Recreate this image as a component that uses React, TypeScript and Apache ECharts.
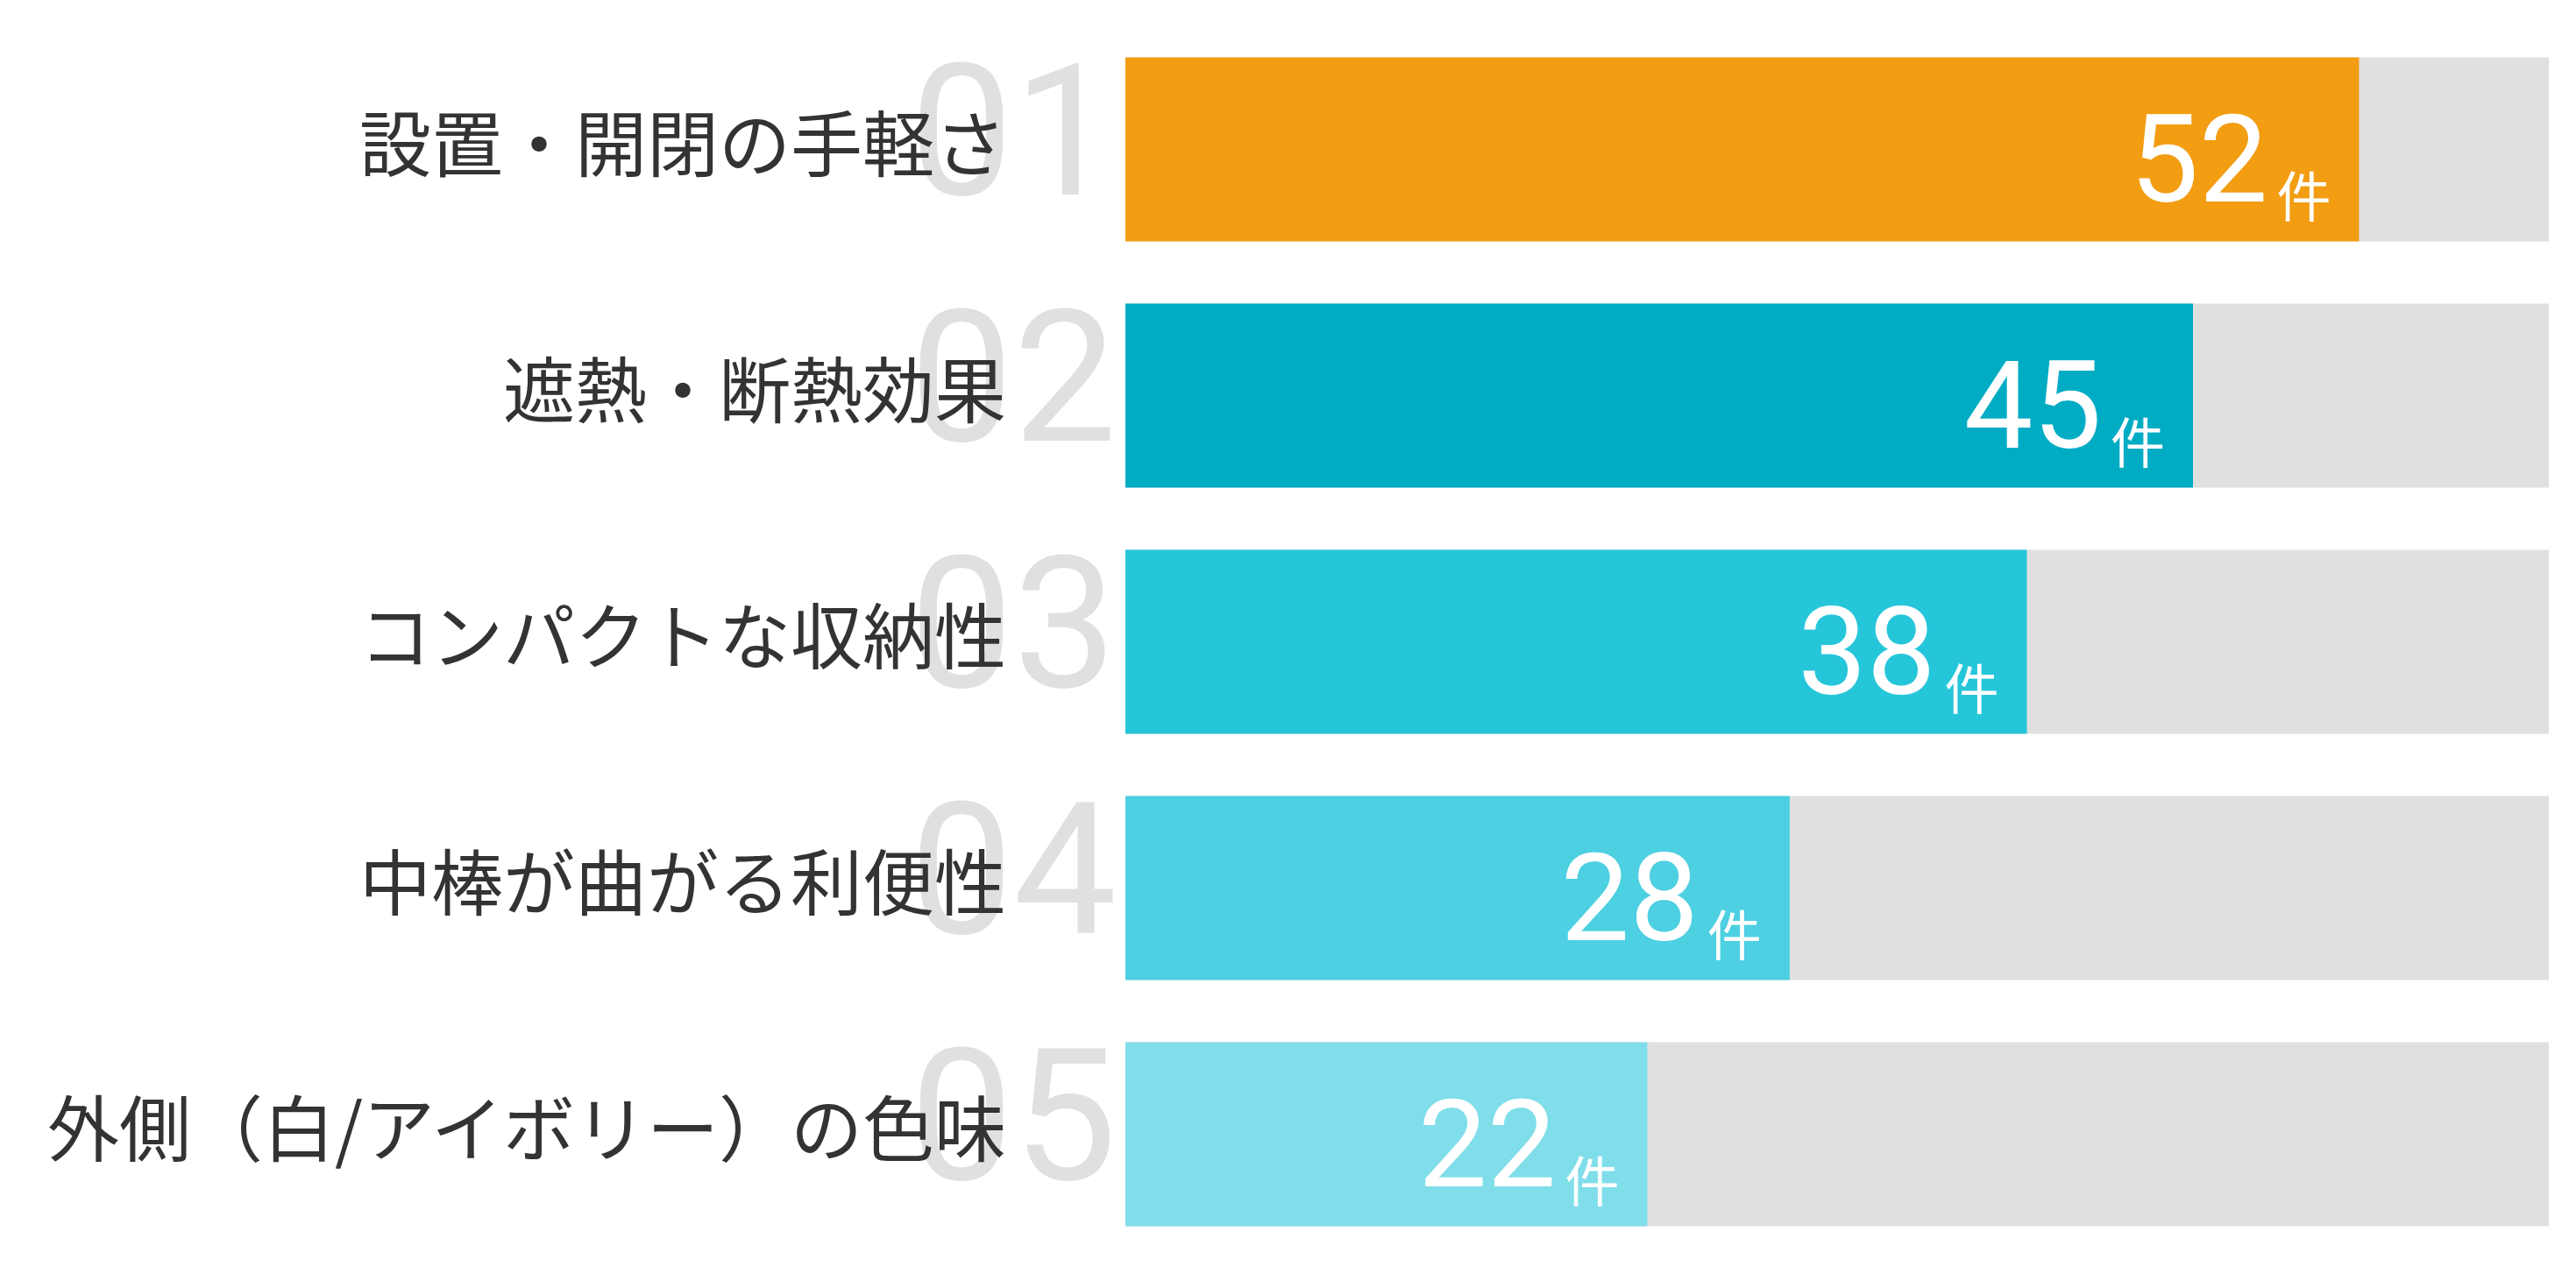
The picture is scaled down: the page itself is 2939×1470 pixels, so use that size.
import { useRef, useEffect } from 'react';
import * as echarts from 'echarts';

const categories = [
  '設置・開閉の手軽さ',
  '遮熱・断熱効果',
  'コンパクトな収納性',
  '中棒が曲がる利便性',
  '外側（白/アイボリー）の色味',
];
const ranks = ['01', '02', '03', '04', '05'];
const counts = [52, 45, 38, 28, 22];
const barColors = ['#F29D12', '#00ACC4', '#26C6DA', '#4DD0E1', '#80DEEA'];
const axisMax = 60;

const JP = '"Noto Sans CJK JP", sans-serif';
const NUM = 'Roboto, "Open Sans", sans-serif';

export default function App() {
  const ref = useRef<HTMLDivElement>(null);

  useEffect(() => {
    if (!ref.current) return;
    const chart = echarts.init(ref.current, null, { renderer: 'svg' });

    chart.setOption({
      animation: false,
      backgroundColor: '#ffffff',
      grid: { left: 1284, right: 31, top: 30, height: 1405 },
      xAxis: {
        type: 'value',
        min: 0,
        max: axisMax,
        show: false,
      },
      yAxis: [
        {
          // big grey rank numbers, drawn under the names
          type: 'category',
          data: ranks,
          inverse: true,
          z: 1,
          axisLine: { show: false },
          axisTick: { show: false },
          splitLine: { show: false },
          axisLabel: {
            interval: 0,
            hideOverlap: false,
            margin: 10,
            color: '#E0E0E0',
            fontFamily: NUM,
            fontWeight: 'normal',
            fontSize: 210,
            verticalAlign: 'bottom',
            lineHeight: 42,
          },
        },
        {
          type: 'category',
          data: categories,
          inverse: true,
          position: 'left',
          z: 3,
          axisLine: { show: false },
          axisTick: { show: false },
          splitLine: { show: false },
          axisLabel: {
            interval: 0,
            hideOverlap: false,
            margin: 136,
            color: '#333333',
            fontFamily: JP,
            fontSize: 82,
            verticalAlign: 'bottom',
            lineHeight: 23,
          },
        },
      ],
      series: [
        {
          type: 'bar',
          yAxisIndex: 0,
          barWidth: 210,
          showBackground: true,
          backgroundStyle: { color: '#E0E0E0' },
          data: counts.map((v, i) => ({ value: v, itemStyle: { color: barColors[i] } })),
          label: {
            show: true,
            position: 'insideRight',
            distance: 32,
            offset: [0, 6],
            formatter: (p: any) => `{n|${p.value}}{u|件}`,
            rich: {
              n: {
                color: '#ffffff',
                fontFamily: NUM,
                fontWeight: 'normal',
                fontSize: 140,
                verticalAlign: 'bottom',
                lineHeight: 150,
              },
              u: {
                color: '#ffffff',
                fontFamily: JP,
                fontSize: 62,
                lineHeight: 72,
                verticalAlign: 'bottom',
                padding: [0, 0, 0, 10],
              },
            },
          },
        },
      ],
    });

    return () => {
      chart.dispose();
    };
  }, []);

  return (
    <div
      ref={ref}
      style={{ position: 'absolute', left: 0, top: 0, width: 2939, height: 1470 }}
    />
  );
}
